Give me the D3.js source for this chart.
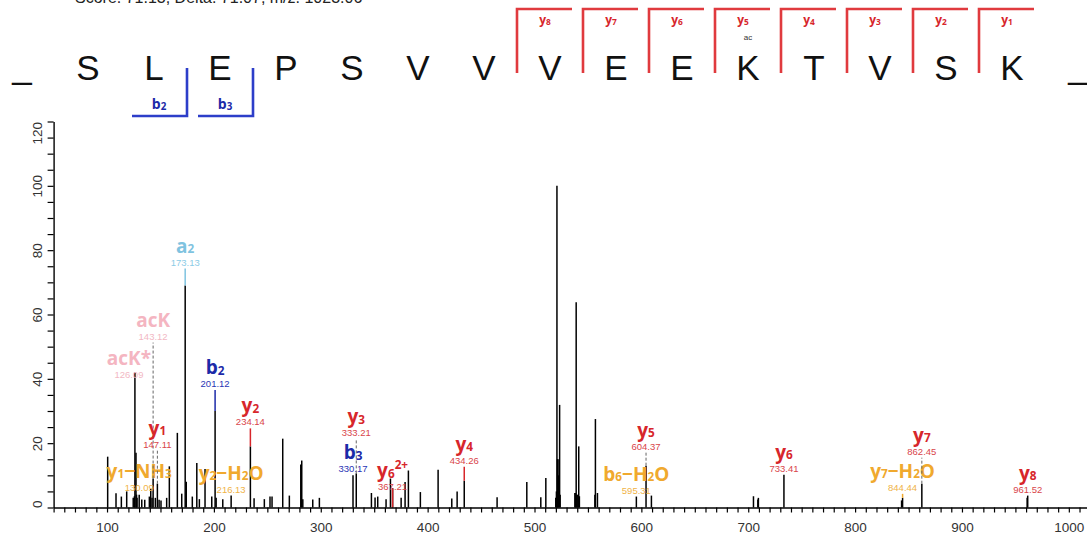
<!DOCTYPE html>
<html><head><meta charset="utf-8">
<script src="https://cdn.jsdelivr.net/npm/d3@7"></script>
<style>
html,body{margin:0;padding:0;background:#fff;overflow:hidden}
svg{display:block}
</style></head><body>
<svg id="chart" width="1087" height="538"></svg>
<script>
// ---------------- data ----------------
const headerText = "Score: 71.13, Delta: 71.07, m/z: 1023.06";
const sequence = ["S","L","E","P","S","V","V","V","E","E","K","T","V","S","K"];
const bIonsCovered = [2, 3];
const yIonsCovered = [8, 7, 6, 5, 4, 3, 2, 1];
const modIndex = 10;          // acetylated K
const modLabel = "ac";

const peakMz = [100.6,108.4,113.4,118.4,124.5,125.6,126.09,127.1,127.6,128.1,130.09,132.5,135.3,139.6,140.9,142.1,143.12,145.2,147.11,148.7,150.5,155.8,158.3,165.8,169.9,173.13,174.13,179.8,184.0,186.4,191.7,198.0,201.12,202.1,208.3,216.13,234.14,237.6,247.2,252.5,254.4,264.4,270.6,281.3,282.2,283.2,292.5,298.7,330.17,333.21,347.4,350.8,353.3,361.1,365.2,367.21,375.2,378.9,382.0,393.2,409.8,422.6,427.6,434.26,465.0,492.8,505.9,510.6,519.9,520.5,521.0,521.5,522.0,522.5,523.5,524.0,537.8,538.3,539.0,539.6,540.5,541.4,542.0,556.5,557.0,558.9,595.31,604.37,609.4,704.9,709.0,709.5,733.41,843.5,844.44,862.45,961.0,961.52];
const peakIntensity = [15.8,4.4,3.4,5.0,3.0,3.5,42,17,4,3,4,2.5,2.4,3.4,5.8,3,9,3,7.4,2.4,2.2,3,12.8,23.2,4.3,69,8,3.4,13.8,2.6,12,3.4,30,3,2.6,3.7,19,2.9,2.6,3.4,3.4,21.4,3.7,13.4,14.6,2.6,2.5,3,10,10.6,4.5,3.1,3.4,2.6,9,6,3,7.9,11.5,4.8,11.7,2.8,5,8.3,3.2,7.9,3.2,9.2,3,5,100,15,15,10,31.9,4,4.5,4.5,63.8,4,4,19,3.5,4,27.5,4.5,3.4,13,3.7,3.5,2.5,3,10.2,2.2,3,7.4,3,3.7];

const annMz    = [126.09,130.09,143.12,147.11,173.13,201.12,216.13,234.14,330.17,333.21,367.21,434.26,595.31,604.37,733.41,844.44,862.45,961.52];
const annLabel = ["acK*","y_1−NH_3","acK","y_1","a_2","b_2","y_2−H_2O","y_2","b_3","y_3","y_6^{2+}","y_4","b_6−H_2O","y_5","y_6","y_7−H_2O","y_7","y_8"];
const annType  = ["imm","loss","imm","y","a","b","loss","y","b","y","y","y","loss","y","y","loss","y","y"];

const xTickValues = d3.range(100, 1001, 100);
const yTickValues = d3.range(0, 121, 20);

// ---------------- layout / style ----------------
const colors = {
  y:    {label:"#d7262b", mass:"#d9454a"},
  b:    {label:"#1c2aa8", mass:"#2a35b5"},
  a:    {label:"#7fc3e0", mass:"#8ccbe6"},
  imm:  {label:"#f4b5c1", mass:"#f2b8c4"},
  loss: {label:"#f0a92e", mass:"#f0b347"}
};
// label lift above peak top (px), connector style, horizontal nudge
const annLayout = {
  126.09:{lift:-9, dx:-6}, 130.09:{lift:1}, 143.12:{lift:136, conn:"dash"}, 147.11:{lift:33, conn:"dash"},
  173.13:{lift:17, conn:"solid"}, 201.12:{lift:21, conn:"solid"}, 216.13:{lift:0}, 234.14:{lift:18, conn:"solid"},
  330.17:{lift:0}, 333.21:{lift:34, conn:"dash"}, 367.21:{lift:-5, colorPeak:true}, 434.26:{lift:14, conn:"solid"},
  595.31:{lift:0}, 604.37:{lift:13, conn:"dash"}, 733.41:{lift:0}, 844.44:{lift:4, conn:"solid"},
  862.45:{lift:26, conn:"dash"}, 961.52:{lift:0}
};

const svg = d3.select("#chart");
const x = d3.scaleLinear().domain([50, 1017]).range([53.6, 1087]);
const y = d3.scaleLinear().domain([0, 120]).range([507.5, 121.5]);

// header (clipped at top)
svg.append("text").attr("x", 75).attr("y", 3)
  .attr("font-family", "Liberation Sans, Arial, sans-serif").attr("font-size", 16)
  .attr("fill", "#222").text(headerText);

// rich text helper
function richText(sel, label, size, ratio) {
  const segs = [];
  let i = 0;
  while (i < label.length) {
    const c = label[i];
    if (c === "_") { segs.push({t: label[i+1], m: "sub"}); i += 2; }
    else if (c === "^") { const j = label.indexOf("}", i); segs.push({t: label.slice(i+2, j), m: "sup"}); i = j + 1; }
    else { let j = i; while (j < label.length && label[j] !== "_" && label[j] !== "^") j++; segs.push({t: label.slice(i, j), m: "n"}); i = j; }
  }
  let cur = 0;
  segs.forEach(s => {
    const target = s.m === "sub" ? 0.5 : (s.m === "sup" ? -size * 0.42 : 0);
    sel.append("tspan").attr("dy", target - cur)
      .attr("font-size", s.m === "n" ? size : size * ratio).text(s.t);
    cur = target;
  });
}

// ---------------- sequence ----------------
const pos = d3.scalePoint().domain(d3.range(-1, sequence.length + 1)).range([22, 1078]);
const step = pos.step();
const seqG = svg.append("g").attr("font-family", "Liberation Sans, Arial, sans-serif");
seqG.selectAll("text.res").data(sequence).join("text").attr("class", "res")
  .attr("x", (d, i) => pos(i)).attr("y", 80).attr("text-anchor", "middle")
  .attr("font-size", 35).attr("fill", "#111").text(d => d);
seqG.selectAll("text.term").data([-1, sequence.length]).join("text").attr("class", "term")
  .attr("x", d => pos(d)).attr("y", 78).attr("text-anchor", "middle")
  .attr("font-size", 35).attr("fill", "#111").text("_");
seqG.append("text").attr("x", pos(modIndex)).attr("y", 40).attr("text-anchor", "middle")
  .attr("font-size", 8).attr("fill", "#333").text(modLabel);

// b brackets
bIonsCovered.forEach(n => {
  const bx = pos(n - 1) + step / 2;
  svg.append("path").attr("d", `M${bx},68 V116 H${bx - 55}`)
    .attr("fill", "none").attr("stroke", "#2d3ec9").attr("stroke-width", 2.6);
  const t = svg.append("text").attr("x", bx - 28).attr("y", 109).attr("text-anchor", "middle")
    .attr("font-family", "Open Sans, sans-serif").attr("font-weight", 700).attr("fill", "#1c2aa8");
  richText(t, "b_" + n, 14, 0.7);
});
// y brackets
yIonsCovered.forEach(n => {
  const yx = pos(sequence.length - n) - step / 2;
  svg.append("path").attr("d", `M${yx},73 V9 H${yx + 55}`)
    .attr("fill", "none").attr("stroke", "#e03a3e").attr("stroke-width", 2.6);
  const t = svg.append("text").attr("x", yx + 28).attr("y", 24).attr("text-anchor", "middle")
    .attr("font-family", "Open Sans, sans-serif").attr("font-weight", 700).attr("fill", "#d7262b");
  richText(t, "y_" + n, 12, 0.7);
});

// ---------------- spectrum ----------------
const peaks = peakMz.map((m, i) => ({mz: m, int: peakIntensity[i]}));
svg.append("g").selectAll("line").data(peaks).join("line")
  .attr("x1", d => x(d.mz)).attr("x2", d => x(d.mz))
  .attr("y1", y(0)).attr("y2", d => y(d.int))
  .attr("stroke", "#000").attr("stroke-width", 1.5);

const anns = annMz.map((m, i) => {
  const p = peaks.find(q => Math.abs(q.mz - m) < 1e-6);
  const L = annLayout[m] || {lift: 0};
  return {mz: m, int: p ? p.int : 0, label: annLabel[i], type: annType[i], lay: L};
});

const annG = svg.append("g");
anns.forEach(a => {
  const px = x(a.mz), top = y(a.int);
  const massY = top - 3 - a.lay.lift;
  const lx = px + (a.lay.dx || 0);
  const c = colors[a.type];
  if (a.lay.colorPeak) {
    annG.append("line").attr("x1", px).attr("x2", px).attr("y1", y(0)).attr("y2", top)
      .attr("stroke", c.label).attr("stroke-width", 1.5);
  }
  if (a.lay.conn === "solid") {
    annG.append("line").attr("x1", px).attr("x2", px).attr("y1", top).attr("y2", massY + 3)
      .attr("stroke", c.label).attr("stroke-width", 1.5);
  } else if (a.lay.conn === "dash") {
    annG.append("line").attr("x1", px).attr("x2", px).attr("y1", top).attr("y2", massY + 3)
      .attr("stroke", "#666").attr("stroke-width", 1).attr("stroke-dasharray", "3,2");
  }
  annG.append("text").attr("x", lx).attr("y", massY).attr("text-anchor", "middle")
    .attr("font-family", "Liberation Sans, Arial, sans-serif").attr("font-size", 9.5)
    .attr("fill", c.mass).text(a.mz.toFixed(2));
  const t = annG.append("text").attr("x", lx).attr("y", massY - 13).attr("text-anchor", "middle")
    .attr("font-family", "Open Sans, sans-serif").attr("font-weight", 700).attr("fill", c.label);
  richText(t, a.label, 19, 0.62);
});

// ---------------- axes ----------------
const xAxis = svg.append("g").attr("transform", `translate(0,${y(0)})`)
  .call(d3.axisBottom(x).tickValues(d3.range(50, 1011, 10)).tickSize(5).tickSizeOuter(0)
    .tickFormat(d => xTickValues.includes(d) ? d : ""));
const yAxis = svg.append("g").attr("transform", `translate(${x(50)},0)`)
  .call(d3.axisLeft(y).tickValues(d3.range(0, 121, 5)).tickSize(6).tickSizeOuter(0)
    .tickFormat(d => yTickValues.includes(d) ? d : ""));
[xAxis, yAxis].forEach(g => {
  g.select(".domain").attr("stroke", "#000").attr("stroke-width", 1.4);
  g.selectAll(".tick line").attr("stroke", "#000").attr("stroke-width", 1.2);
  g.selectAll(".tick text").attr("font-family", "Liberation Sans, Arial, sans-serif")
    .attr("font-size", 13.5).attr("fill", "#333");
});
xAxis.selectAll(".tick text").attr("y", 0).attr("dy", 0).attr("transform", "translate(0,24)");
yAxis.selectAll(".tick text")
  .attr("x", 0).attr("dy", 0)
  .attr("text-anchor", d => d === 0 ? "start" : (d === 120 ? "end" : "middle"))
  .attr("transform", "translate(-12,0) rotate(-90)");
</script>
</body></html>
